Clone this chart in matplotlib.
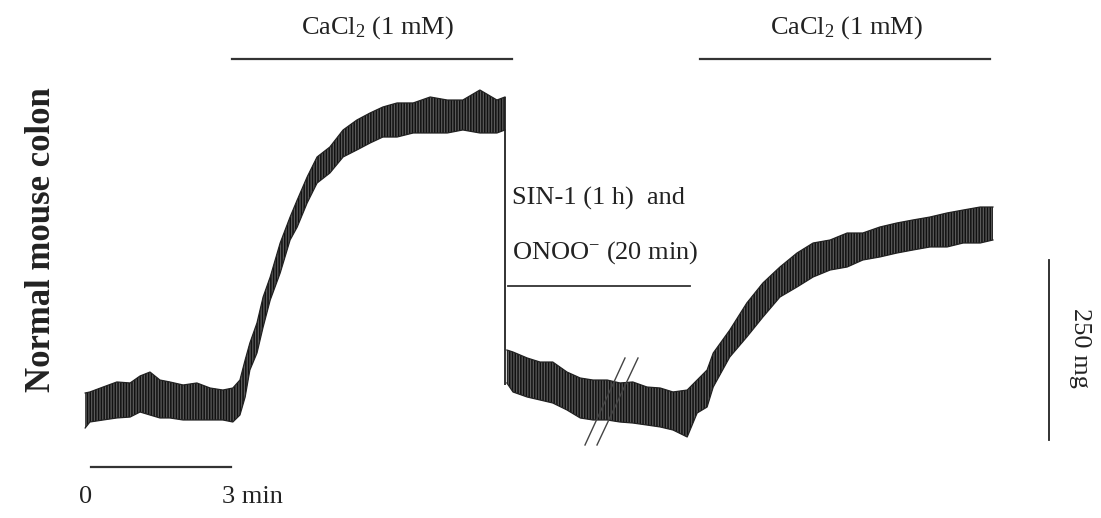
import matplotlib
matplotlib.use("Agg")
import matplotlib.pyplot as plt
from matplotlib.lines import Line2D

plt.rcParams['font.family'] = ['Liberation Serif', 'DejaVu Serif']
plt.rcParams['mathtext.fontset'] = 'custom'
plt.rcParams['mathtext.rm'] = 'Liberation Serif'
plt.rcParams['mathtext.it'] = 'Liberation Serif:italic'
plt.rcParams['hatch.linewidth'] = 1.1

# ---- data: tension trace envelopes (time in min, tension in mg) ----
seg1_t = [-0.06, 0.04, 0.32, 0.61, 0.89, 1.10, 1.31, 1.52, 1.73, 2.01, 2.30, 2.58, 2.85, 3.06,
          3.21, 3.32, 3.42, 3.57, 3.70, 3.85, 4.06, 4.27, 4.42, 4.63, 4.84, 5.11, 5.39, 5.68,
          5.96, 6.23, 6.53, 6.87, 7.23, 7.59, 7.92, 8.28, 8.64, 8.81]
seg1_hi = [65.3, 66.7, 73.6, 80.6, 79.2, 88.9, 94.4, 83.3, 80.6, 76.4, 79.2, 72.2, 69.4, 72.2,
           83.3, 111.1, 134.7, 162.5, 198.6, 226.4, 273.6, 309.7, 333.3, 365.3, 393.1, 406.9,
           430.6, 444.4, 454.2, 462.5, 468.1, 468.1, 476.4, 472.2, 472.2, 486.1, 472.2, 476.4]
seg1_lo = [16.7, 25.0, 27.8, 30.6, 31.9, 38.9, 34.7, 30.6, 30.6, 27.8, 27.8, 27.8, 27.8, 25.0,
           34.7, 59.7, 97.2, 120.8, 156.9, 194.4, 231.9, 277.8, 295.8, 329.2, 356.9, 370.8,
           393.1, 402.8, 412.5, 420.8, 420.8, 426.4, 426.4, 426.4, 430.6, 426.4, 426.4, 430.6]

seg2_t = [8.85, 8.98, 9.28, 9.55, 9.82, 10.12, 10.40, 10.67, 10.97, 11.24, 11.51, 11.81, 12.09,
          12.36, 12.66, 12.87, 13.08, 13.21, 13.56, 13.92, 14.26, 14.62, 14.98, 15.32, 15.68,
          16.04, 16.37, 16.73, 17.09, 17.43, 17.79, 18.15, 18.49, 18.85, 19.12]
seg2_hi = [125.0, 122.2, 113.9, 108.3, 108.3, 94.4, 86.1, 83.3, 83.3, 79.2, 80.6, 73.6, 72.2,
           66.7, 69.4, 83.3, 97.2, 120.8, 152.8, 190.3, 218.1, 240.3, 259.7, 273.6, 277.8,
           287.5, 287.5, 295.8, 301.4, 305.6, 309.7, 315.3, 319.4, 323.6, 323.6]
seg2_lo = [79.2, 66.7, 59.7, 55.6, 51.4, 41.7, 30.6, 27.8, 27.8, 25.0, 23.6, 20.8, 18.1,
           13.9, 4.2, 37.5, 45.8, 73.6, 115.3, 143.1, 170.8, 198.6, 212.5, 226.4, 236.1,
           240.3, 250.0, 254.2, 259.7, 263.9, 268.1, 268.1, 273.6, 273.6, 277.8]

drop_t = 8.81
drop_top = 476.4
drop_bottom = 76.4

# labels
cacl2_label = "CaCl$_2$ (1 mM)"
sin1_label = "SIN-1 (1 h)  and"
onoo_label = "ONOO$^{-}$ (20 min)"
ylabel = "Normal mouse colon"
tension_bar_label = "250 mg"
time_labels = ["0", "3 min"]

W, H = 1101, 518
fig = plt.figure(figsize=(W / 100, H / 100), dpi=100)
ax = fig.add_axes([0, 0, 1, 1])
ax.set_xlim(-88 / 47.33, (W - 88) / 47.33)
ax.set_ylim((440 - H) / 0.72, 440 / 0.72)
ax.axis('off')

for t, hi, lo in [(seg1_t, seg1_hi, seg1_lo), (seg2_t, seg2_hi, seg2_lo)]:
    ax.fill_between(t, lo, hi, facecolor='#5a5a5a', edgecolor='#111111',
                    hatch='||||||', linewidth=0.0)
    ax.plot(t, hi, color='#222222', lw=0.9)
    ax.plot(t, lo, color='#222222', lw=0.9)
ax.vlines(drop_t, drop_bottom, drop_top, color='#222222', lw=1.3)


def P(x, y):
    return (x / W, 1 - y / H)


def hline(x0, x1, y, lw=1.6):
    fig.add_artist(Line2D([x0 / W, x1 / W], [1 - y / H, 1 - y / H], color='#333333', lw=lw,
                          transform=fig.transFigure))


def seg(x0, y0, x1, y1, lw=1.0, color='#333333'):
    fig.add_artist(Line2D([x0 / W, x1 / W], [1 - y0 / H, 1 - y1 / H], color=color, lw=lw,
                          transform=fig.transFigure))


tc = '#222222'
fs = 19
fig.text(*P(378, 28), cacl2_label, ha='center', va='center', fontsize=fs, color=tc)
hline(232, 512, 59)
fig.text(*P(847, 28), cacl2_label, ha='center', va='center', fontsize=fs, color=tc)
hline(700, 990, 59)

fig.text(*P(512, 198), sin1_label, ha='left', va='center', fontsize=fs, color=tc)
fig.text(*P(512, 253), onoo_label, ha='left', va='center', fontsize=fs, color=tc)
hline(508, 690, 286, lw=1.3)

# tension scale bar
seg(1049, 260, 1049, 440, lw=1.3, color='#222222')
fig.text(*P(1080, 348), tension_bar_label, ha='center', va='center', fontsize=19,
         rotation=270, color=tc)

# time scale bar
hline(91, 231, 467, lw=1.6)
fig.text(*P(86, 497), time_labels[0], ha='center', va='center', fontsize=fs, color=tc)
fig.text(*P(222, 497), time_labels[1], ha='left', va='center', fontsize=fs, color=tc)

# y label
fig.text(*P(42, 240), ylabel, ha='center', va='center', fontsize=25, rotation=90,
         fontweight='bold', color=tc)

# break marks
seg(585, 445, 625, 358, lw=1.0, color='#444444')
seg(597, 445, 638, 358, lw=1.0, color='#444444')

fig.savefig('out.png', dpi=100)
